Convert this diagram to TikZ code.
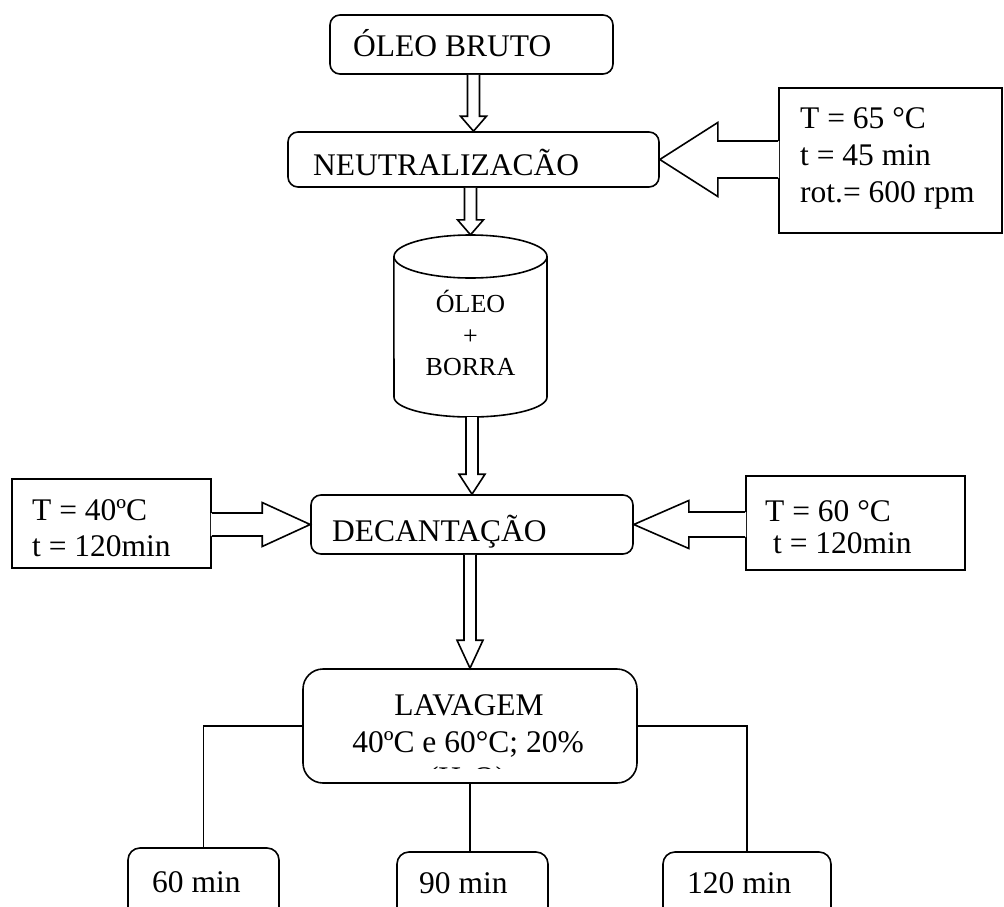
\documentclass[tikz,border=0pt]{standalone}
\usepackage{fontspec}
\setmainfont{Liberation Serif}
\usetikzlibrary{calc}
\tikzset{
  lw/.style={line width=1.6pt},
  box/.style={draw, lw, rounded corners=10pt, inner sep=0pt},
  bigbox/.style={draw, lw, rounded corners=20pt, inner sep=0pt},
  pbox/.style={draw, lw, inner sep=0pt},
  txt/.style={inner sep=0pt, anchor=base west, text height=23pt, text depth=6pt, font=\fontsize{31.5}{36}\selectfont},
  ctxt/.style={inner sep=0pt, anchor=base, text height=23pt, text depth=6pt, font=\fontsize{31.5}{36}\selectfont},
  cyltxt/.style={inner sep=0pt, anchor=base, font=\fontsize{26}{30}\selectfont},
  link/.style={lw},
  hollow/.style={lw, line join=miter},
}
% vertical hollow arrow: #1 source node anchor, #2 tip anchor, #3 head length
\newcommand\hollowdown[3]{%
  \draw[hollow, fill=white] let \p1=(#1), \p2=(#2) in
    (\x2-6pt,\y1) -- (\x2-6pt,\y2+#3) -- (\x2-13pt,\y2+#3) -- (\x2,\y2)
    -- (\x2+13pt,\y2+#3) -- (\x2+6pt,\y2+#3) -- (\x2+6pt,\y1);}
% horizontal hollow arrow: #1 box edge anchor, #2 tip anchor, #3 sign (+ for left-pointing),
% #4 head length, #5 shaft half width, #6 head half width
\newcommand\hollowside[6]{%
  \fill[white] let \p1=(#1), \p2=(#2) in
    (\x1#31pt,\y2+#5) -- (\x2#3#4,\y2+#5) -- (\x2#3#4,\y2+#6) -- (\x2,\y2)
    -- (\x2#3#4,\y2-#6) -- (\x2#3#4,\y2-#5) -- (\x1#31pt,\y2-#5) -- cycle;
  \draw[hollow] let \p1=(#1), \p2=(#2) in
    (\x1,\y2+#5) -- (\x2#3#4,\y2+#5) -- (\x2#3#4,\y2+#6) -- (\x2,\y2)
    -- (\x2#3#4,\y2-#6) -- (\x2#3#4,\y2-#5) -- (\x1,\y2-#5);}
\begin{document}
\begin{tikzpicture}[x=1pt, y=-1pt]
\clip (0,0) rectangle (1004,907);
\fill[white] (0,0) rectangle (1004,907);

% main boxes
\node[box, minimum width=283pt, minimum height=59pt] (oleo) at (471.5,44.5) {};
\node[box, minimum width=371pt, minimum height=55pt] (neut) at (473.5,159.5) {};
\node[inner sep=0pt, minimum width=153pt, minimum height=182pt] (cyl) at (470.5,326) {};
\node[box, minimum width=322pt, minimum height=59pt] (dec) at (472,524.5) {};
\node[bigbox, minimum width=334pt, minimum height=114pt] (lav) at (470,726) {};

% parameter boxes
\node[pbox, minimum width=223pt, minimum height=145pt] (tbox) at (890.5,160.5) {};
\node[pbox, minimum width=199pt, minimum height=89pt] (lbox) at (111.5,523.5) {};
\node[pbox, minimum width=219pt, minimum height=94pt] (rbox) at (855.5,523) {};

% bottom boxes (cut by the lower edge)
\node[box, rounded corners=12pt, minimum width=151pt, minimum height=92pt] (b60) at (203.5,894) {};
\node[box, rounded corners=12pt, minimum width=151pt, minimum height=92pt] (b90) at (472.5,898) {};
\node[box, rounded corners=12pt, minimum width=168pt, minimum height=92pt] (b120) at (747,898) {};

% cylinder
\draw[lw] (cyl.west |- 0,256.5) -- (394,397)
  arc[start angle=180, end angle=360, x radius=76.5pt, y radius=20pt] -- (547,256.5);
\draw[lw] (470.5,256.5) ellipse [x radius=76.5pt, y radius=21.5pt];

% hollow arrows
\hollowdown{oleo.south}{neut.north}{15pt}
\hollowdown{neut.south}{cyl.north}{15pt}
\hollowdown{cyl.south}{dec.north}{20pt}
\hollowdown{dec.south}{lav.north}{28pt}
\hollowside{tbox.west}{neut.east}{+}{58pt}{18.5pt}{37pt}
\hollowside{lbox.east}{dec.west}{-}{48pt}{11.5pt}{22pt}
\hollowside{rbox.west}{dec.east}{+}{55pt}{12.5pt}{24pt}

% branch lines
\draw[link] (lav.west) -| (b60.north);
\draw[link] (lav.south) -- (lav.south |- b90.north);
\draw[link] (lav.east) -| (b120.north);

% texts
\node[txt] (t1) at (353,57) {ÓLEO BRUTO};
\node[txt] (t2) at (313,175) {NEUTRALIZACÃO};
\node[cyltxt] (c1) at (470.5,312) {ÓLEO};
\node[cyltxt] (c2) at (470.5,344) {+};
\node[cyltxt] (c3) at (470.5,375) {BORRA};
\node[txt] (t3) at (332,541) {DECANTAÇÃO};
\node[ctxt] (l1) at (469,715) {LAVAGEM};
\node[ctxt] (l2) at (468,752) {40ºC e 60°C; 20\%};
\begin{scope}
  \clip (330,760) rectangle (610,768.5);
  \node[ctxt] (l3) at (467,788) {(H\textsubscript{2}O)};
\end{scope}

\node[txt] (p1) at (800,128) {T = 65 °C};
\node[txt] (p2) at (800,165) {t = 45 min};
\node[txt] (p3) at (800,202) {rot.= 600 rpm};
\node[txt] (q1) at (32,520) {T = 40ºC};
\node[txt] (q2) at (32,556) {t = 120min};
\node[txt] (r1) at (765,521) {T = 60 °C};
\node[txt] (r2) at (773,553) {t = 120min};

\node[txt] (m1) at (152,892) {60 min};
\node[txt] (m2) at (419,893) {90 min};
\node[txt] (m3) at (687,893) {120 min};
\end{tikzpicture}
\end{document}
